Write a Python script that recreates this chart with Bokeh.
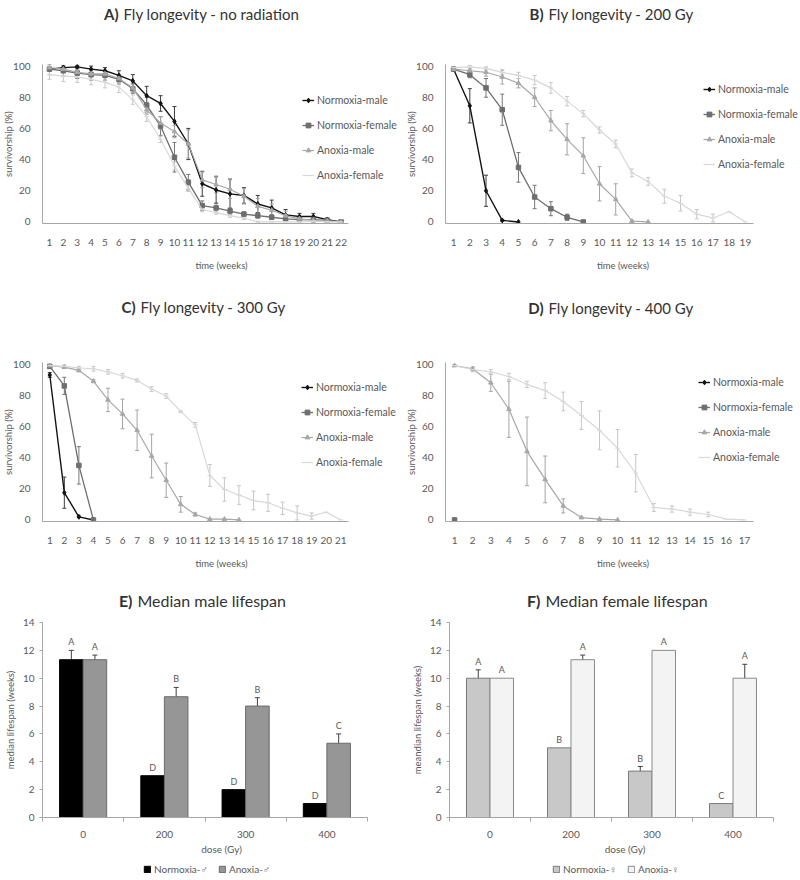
import numpy as np
from bokeh.plotting import figure
from bokeh.models import (Range1d, FixedTicker, Legend, LegendItem, Label,
                          Whisker, TeeHead, ColumnDataSource)
from bokeh.layouts import column, row
from bokeh.embed import file_html
from bokeh.resources import INLINE
from bokeh.core.properties import value

FONT = "Lato"
SERIES = ["Normoxia-male", "Normoxia-female", "Anoxia-male", "Anoxia-female"]

# ---------------- Panel A: no radiation (weeks 1..22) ----------------
A_NM = [98, 99, 99.5, 98, 97, 94, 90.5, 81, 76, 64.5, 50, 24.5, 20.5, 18, 17, 11.5, 9, 4.5, 3.5, 3.5, 1.5, 0]
A_NM_ERR = [0.5, 1, 1, 2, 2, 3, 4, 6, 5, 9.5, 10, 8, 8.5, 9.5, 5, 5.5, 5, 3.5, 2, 2, 1, 0]
A_NF = [98, 97, 95.5, 94.5, 94, 91.5, 85.5, 75, 61.5, 41.5, 25.5, 10.5, 9, 7, 5, 4, 3, 2, 1.5, 1.5, 1, 0]
A_NF_ERR = [3.5, 3.5, 3.5, 3.5, 3, 3, 3, 5, 6, 9.5, 5, 3, 3, 2, 1.5, 1.5, 1.5, 1, 1, 1, 0.5, 0]
A_AM = [99, 98, 96, 95, 95, 92, 86, 72, 63.5, 58, 50, 27, 24, 21, 16.5, 10, 7.5, 4, 2, 1, 0.5, 0]
A_AM_ERR = [0.5, 1, 2, 2, 2, 2.5, 3, 3, 4, 4, 9, 5, 5.5, 6, 5, 5, 4, 3, 1, 1, 0.5, 0]
A_AF = [94.5, 93.5, 93, 91.5, 89.5, 86.5, 78.5, 67.5, 53, 36, 21.5, 8, 6, 4, 2.5, 0, 0, 0, 0, 0.5, 0, 0]
A_AF_ERR = [3, 3.5, 3.5, 3.5, 3.5, 3.5, 3, 3, 2, 2.5, 2, 1.5, 1, 1, 1, 0.5, 0, 0, 0, 0, 0, 0]
A_WEEKS = 22

# ---------------- Panel B: 200 Gy (weeks 1..19) ----------------
B_NM = [98, 74.5, 20, 1, 0]
B_NM_ERR = [0.5, 11, 10, 0.5, 0]
B_NF = [98, 94.5, 86, 72, 35, 16, 8.5, 3, 0]
B_NF_ERR = [0.5, 2, 6, 10, 9.5, 7.5, 4.5, 2, 0]
B_AM = [98, 97, 96, 93, 89, 80, 65, 53, 42.5, 24.5, 14.5, 0.5, 0]
B_AM_ERR = [0.5, 1, 2.5, 4.5, 3, 6, 6.5, 10, 11.5, 11, 10, 0.5, 0]
B_AF = [99, 99.5, 98.5, 96, 94, 91, 86, 77.5, 69.5, 59, 50, 31.5, 26, 16.5, 12, 5, 2.5, 6.5, 0]
B_AF_ERR = [0.5, 1, 1, 1.5, 2, 3, 3.5, 3, 2, 2, 2.5, 2.5, 2.5, 4.5, 5, 3, 2.5, 0, 0]
B_WEEKS = 19

# ---------------- Panel C: 300 Gy (weeks 1..21) ----------------
C_NM = [93, 17.5, 2, 0]
C_NM_ERR = [1.5, 10, 0.5, 0]
C_NF = [98.5, 86, 35, 0]
C_NF_ERR = [0.5, 5.5, 12, 0]
C_AM = [99, 98, 96, 89, 77, 68, 57.5, 41, 25.5, 10, 3.5, 0.5, 0.5, 0]
C_AM_ERR = [0.5, 0.5, 1, 1, 7.5, 9.5, 13, 14, 11, 5, 1, 0.3, 0.3, 0]
C_AF = [99, 98.5, 97.5, 97, 95, 92.5, 89.5, 84, 79.5, 69.5, 61, 28.5, 19.5, 16, 12.5, 11, 7.5, 4.5, 2.5, 5, 0]
C_AF_ERR = [0.5, 1, 1, 1.5, 1.5, 1.5, 1, 1.5, 1.5, 0.5, 1.5, 7, 7.5, 6, 6, 5.5, 4, 4.5, 2, 0, 0]
C_WEEKS = 21

# ---------------- Panel D: 400 Gy (weeks 1..17) ----------------
D_NM = [0]
D_NM_ERR = [0]
D_NF = [0]
D_NF_ERR = [0]
D_AM = [99, 97, 88, 71, 44, 26, 9, 1.5, 0.5, 0]
D_AM_ERR = [0.5, 1, 5.5, 18, 22, 15, 4.5, 0.5, 0.3, 0]
D_AF = [99, 96.5, 95, 92, 87, 83, 76, 67, 57.5, 46, 30, 8, 7, 5, 3.5, 0.5, 0]
D_AF_ERR = [0.5, 1.5, 1.5, 2, 2, 5, 6, 9, 12.5, 12, 12, 2.5, 2, 2, 1.5, 0, 0]
D_WEEKS = 17

# ---------------- Panels E / F: median lifespan ----------------
DOSES = ["0", "200", "300", "400"]
E_NORMOXIA = [11.33, 3, 2, 1]
E_NORMOXIA_ERR = [0.67, 0, 0, 0]
E_NORMOXIA_LET = ["A", "D", "D", "D"]
E_ANOXIA = [11.33, 8.67, 8, 5.33]
E_ANOXIA_ERR = [0.33, 0.67, 0.6, 0.67]
E_ANOXIA_LET = ["A", "B", "B", "C"]

F_NORMOXIA = [10, 5, 3.33, 1]
F_NORMOXIA_ERR = [0.6, 0, 0.33, 0]
F_NORMOXIA_LET = ["A", "B", "B", "C"]
F_ANOXIA = [10, 11.33, 12, 10]
F_ANOXIA_ERR = [0, 0.33, 0, 1]
F_ANOXIA_LET = ["A", "A", "A", "A"]

# ---------------- styles ----------------
LINE_COLORS = ["#141414", "#6e6e6e", "#a8a8a8", "#d8d8d8"]
ERR_COLORS = ["#3c3c3c", "#777777", "#a4a4a4", "#c6c6c6"]
MARKERS = ["diamond", "square", "triangle", "dash"]
MARKER_SIZES = [5, 4.5, 4.5, 5]
LINE_WIDTHS = [1.4, 1.3, 1.2, 1.2]
AXIS_COLOR = "#a6a6a6"
TEXT_COLOR = "#595959"
TITLE_COLOR = "#333333"
FIG_W = 400


def blank_fig(height):
    f = figure(width=FIG_W, height=height, output_backend="svg", toolbar_location=None,
               x_range=Range1d(0, 1), y_range=Range1d(0, 1),
               x_axis_location=None, y_axis_location=None, frame_align=False,
               min_border_left=0, min_border_right=0, min_border_top=0, min_border_bottom=0)
    f.outline_line_color = None
    f.grid.visible = False
    return f


def header_fig(height, letter, text, x_split, y, size):
    f = blank_fig(height)
    f.add_layout(Label(x=x_split, y=y, x_units="screen", y_units="screen", text=letter,
                       text_align="right", text_baseline="middle", text_font=FONT,
                       text_font_style="bold", text_font_size=size, text_color=TITLE_COLOR))
    f.add_layout(Label(x=x_split + 5, y=y, x_units="screen", y_units="screen", text=text,
                       text_align="left", text_baseline="middle", text_font=FONT,
                       text_font_style="normal", text_font_size=size, text_color=TITLE_COLOR))
    return f


def style_axes(p):
    for ax in (p.xaxis[0], p.yaxis[0]):
        ax.axis_line_color = AXIS_COLOR
        ax.major_tick_line_color = None
        ax.minor_tick_line_color = None
        ax.major_label_text_font = FONT
        ax.major_label_text_font_size = "10px"
        ax.major_label_text_color = TEXT_COLOR
        ax.axis_label_text_font = FONT
        ax.axis_label_text_font_size = "9.5px"
        ax.axis_label_text_font_style = "normal"
        ax.axis_label_text_color = TEXT_COLOR


def line_panel(n_weeks, vals_list, errs_list, height, left, bottom, axis_px, legend_pos):
    # frame reaches the right edge so the legend fits inside it; axis line limited by bounds
    frame_w = FIG_W - left
    px_x = axis_px / n_weeks
    p = figure(width=FIG_W, height=height, output_backend="svg", toolbar_location=None,
               x_range=Range1d(0.5, 0.5 + frame_w / px_x), y_range=Range1d(-1.0, 101.0),
               min_border_left=left, min_border_right=0, min_border_top=5,
               min_border_bottom=bottom, frame_align=False, x_axis_label="time (weeks)",
               y_axis_label="survivorship (%)")
    p.outline_line_color = None
    p.grid.visible = False
    p.xaxis.ticker = FixedTicker(ticks=list(range(1, n_weeks + 1)))
    p.yaxis.ticker = FixedTicker(ticks=[0, 20, 40, 60, 80, 100])
    p.xaxis.bounds = (0.5, n_weeks + 0.5)
    style_axes(p)
    p.xaxis.major_label_standoff = 9
    p.xaxis.axis_label_standoff = 11
    p.yaxis.major_label_standoff = 6
    p.yaxis.axis_label_standoff = -4

    items = []
    for i, (vals, errs) in enumerate(zip(vals_list, errs_list)):
        weeks = list(range(1, len(vals) + 1))
        wx = [w for w, e in zip(weeks, errs) if e > 0]
        up = [min(v + e, 101) for v, e in zip(vals, errs) if e > 0]
        lo = [max(v - e, 0) for v, e in zip(vals, errs) if e > 0]
        if wx:
            src = ColumnDataSource(dict(base=wx, upper=up, lower=lo))
            p.add_layout(Whisker(source=src, base="base", upper="upper", lower="lower",
                                 line_color=ERR_COLORS[i], line_width=1,
                                 upper_head=TeeHead(size=4, line_color=ERR_COLORS[i], line_width=1),
                                 lower_head=TeeHead(size=4, line_color=ERR_COLORS[i], line_width=1)))
        lr = p.line(weeks, vals, line_color=LINE_COLORS[i], line_width=LINE_WIDTHS[i])
        sr = p.scatter(weeks, vals, marker=MARKERS[i], size=MARKER_SIZES[i],
                       fill_color=LINE_COLORS[i], line_color=LINE_COLORS[i])
        items.append(LegendItem(label=SERIES[i], renderers=[lr, sr]))

    leg = Legend(items=items, location=legend_pos, orientation="vertical",
                 label_text_font=FONT, label_text_font_size="10.5px", label_text_color=TEXT_COLOR,
                 glyph_width=12, glyph_height=20, label_height=20, spacing=5, label_standoff=3,
                 padding=0, margin=0, border_line_alpha=0, background_fill_alpha=0)
    p.add_layout(leg)
    return p


def bar_positions(n):
    centers = np.arange(n) + 0.5
    return centers, centers - 0.145, centers + 0.145


def bar_panel(v1, e1, l1, v2, e2, l2, fills, outlines, ylab, height, left, bottom, axis_px):
    n = len(DOSES)
    frame_w = FIG_W - left
    px_x = axis_px / n
    p = figure(width=FIG_W, height=height, output_backend="svg", toolbar_location=None,
               x_range=Range1d(0, frame_w / px_x), y_range=Range1d(0, 14),
               min_border_left=left, min_border_right=0, min_border_top=5,
               min_border_bottom=bottom, frame_align=False,
               x_axis_label="dose (Gy)", y_axis_label=ylab)
    p.outline_line_color = None
    p.grid.visible = False
    centers, x1, x2 = bar_positions(n)
    p.vbar(x=x1, top=v1, width=0.29, fill_color=fills[0], line_color=outlines[0], line_width=1)
    p.vbar(x=x2, top=v2, width=0.29, fill_color=fills[1], line_color=outlines[1], line_width=1)

    for xs, vs, es in ((x1, v1, e1), (x2, v2, e2)):
        bx = [x for x, e in zip(xs, es) if e > 0]
        up = [v + e for v, e in zip(vs, es) if e > 0]
        lo = [v - e for v, e in zip(vs, es) if e > 0]
        src = ColumnDataSource(dict(base=bx, upper=up, lower=lo))
        p.add_layout(Whisker(source=src, base="base", upper="upper", lower="lower",
                             line_color="#404040", line_width=1,
                             upper_head=TeeHead(size=5, line_color="#404040", line_width=1),
                             lower_head=TeeHead(size=5, line_color="#404040", line_width=1)))

    for xs, vs, es, ls in ((x1, v1, e1, l1), (x2, v2, e2, l2)):
        tops = [v + e for v, e in zip(vs, es)]
        p.text(x=list(xs), y=tops, text=ls, text_align="center", text_baseline="bottom",
               y_offset=-3, text_font=value(FONT), text_font_size="9px", text_color=TEXT_COLOR)

    p.xaxis.ticker = FixedTicker(ticks=list(centers), minor_ticks=list(range(n + 1)))
    p.xaxis.major_label_overrides = {float(c): d for c, d in zip(centers, DOSES)}
    p.yaxis.ticker = FixedTicker(ticks=list(range(0, 15, 2)))
    p.xaxis.bounds = (0, n)
    style_axes(p)
    p.xaxis.minor_tick_line_color = AXIS_COLOR
    p.xaxis.minor_tick_out = 4
    p.xaxis.minor_tick_in = 0
    p.xaxis.major_label_standoff = 7
    p.xaxis.axis_label_standoff = 2
    p.xaxis.axis_label_text_font_size = "10px"
    p.yaxis.major_tick_line_color = AXIS_COLOR
    p.yaxis.major_tick_out = 3
    p.yaxis.major_tick_in = 0
    p.yaxis.major_label_standoff = 5
    p.yaxis.axis_label_standoff = 4
    return p


def bar_legend_fig(v1, v2, names, fills, outlines, x_loc):
    # hidden copies of the two bar series: only their legend entries are shown
    f = blank_fig(20)
    _, x1, x2 = bar_positions(len(DOSES))
    r1 = f.vbar(x=x1, top=v1, width=0.29, fill_color=fills[0], line_color=outlines[0], visible=False)
    r2 = f.vbar(x=x2, top=v2, width=0.29, fill_color=fills[1], line_color=outlines[1], visible=False)
    leg = Legend(items=[LegendItem(label=names[0], renderers=[r1]),
                        LegendItem(label=names[1], renderers=[r2])],
                 location=(x_loc, 2), orientation="horizontal",
                 label_text_font=FONT, label_text_font_size="10px", label_text_color=TEXT_COLOR,
                 glyph_width=8, glyph_height=8, label_height=12, spacing=10, label_standoff=3,
                 padding=0, margin=0, border_line_alpha=0, background_fill_alpha=0,
                 inactive_fill_alpha=0)
    f.add_layout(leg)
    return f


hA = header_fig(59, "A)", "Fly longevity - no radiation", 118, 46, "15px")
pA = line_panel(A_WEEKS, [A_NM, A_NF, A_AM, A_AF], [A_NM_ERR, A_NF_ERR, A_AM_ERR, A_AF_ERR],
                239, 38, 75, 309, (260, 38))
hB = header_fig(59, "B)", "Fly longevity - 200 Gy", 143, 46, "15px")
pB = line_panel(B_WEEKS, [B_NM, B_NF, B_AM, B_AF], [B_NM_ERR, B_NF_ERR, B_AM_ERR, B_AF_ERR],
                239, 45, 75, 308, (258, 49))
hC = header_fig(59, "C)", "Fly longevity - 300 Gy", 135, 51, "15px")
pC = line_panel(C_WEEKS, [C_NM, C_NF, C_AM, C_AF], [C_NM_ERR, C_NF_ERR, C_AM_ERR, C_AF_ERR],
                221, 38, 57, 309, (259, 49))
hD = header_fig(59, "D)", "Fly longevity - 400 Gy", 143, 50, "15px")
pD = line_panel(D_WEEKS, [D_NM, D_NF, D_AM, D_AF], [D_NM_ERR, D_NF_ERR, D_AM_ERR, D_AF_ERR],
                221, 45, 57, 308, (253, 54))

E_FILLS, E_LINES = ["#000000", "#969696"], ["#000000", "#6a6a6a"]
F_FILLS, F_LINES = ["#c8c8c8", "#f3f3f3"], ["#7a7a7a", "#8a8a8a"]
hE = header_fig(39, "E)", "Median male lifespan", 132, 17, "16px")
pE = bar_panel(E_NORMOXIA, E_NORMOXIA_ERR, E_NORMOXIA_LET, E_ANOXIA, E_ANOXIA_ERR, E_ANOXIA_LET,
               E_FILLS, E_LINES, "median lifespan (weeks)", 240, 42, 40, 325)
lE = bar_legend_fig(E_NORMOXIA, E_ANOXIA, ["Normoxia-\u2642", "Anoxia-\u2642"], E_FILLS, E_LINES, 143)
hF = header_fig(39, "F)", "Median female lifespan", 140, 17, "16px")
pF = bar_panel(F_NORMOXIA, F_NORMOXIA_ERR, F_NORMOXIA_LET, F_ANOXIA, F_ANOXIA_ERR, F_ANOXIA_LET,
               F_FILLS, F_LINES, "meandian lifespan (weeks)", 240, 49, 40, 324)
lF = bar_legend_fig(F_NORMOXIA, F_ANOXIA, ["Normoxia-\u2640", "Anoxia-\u2640"], F_FILLS, F_LINES, 152)

layout = column(
    row(column(hA, pA), column(hB, pB)),
    row(column(hC, pC), column(hD, pD)),
    row(column(hE, pE, lE), column(hF, pF, lF)),
)
open("out.html", "w").write(file_html(layout, INLINE))
